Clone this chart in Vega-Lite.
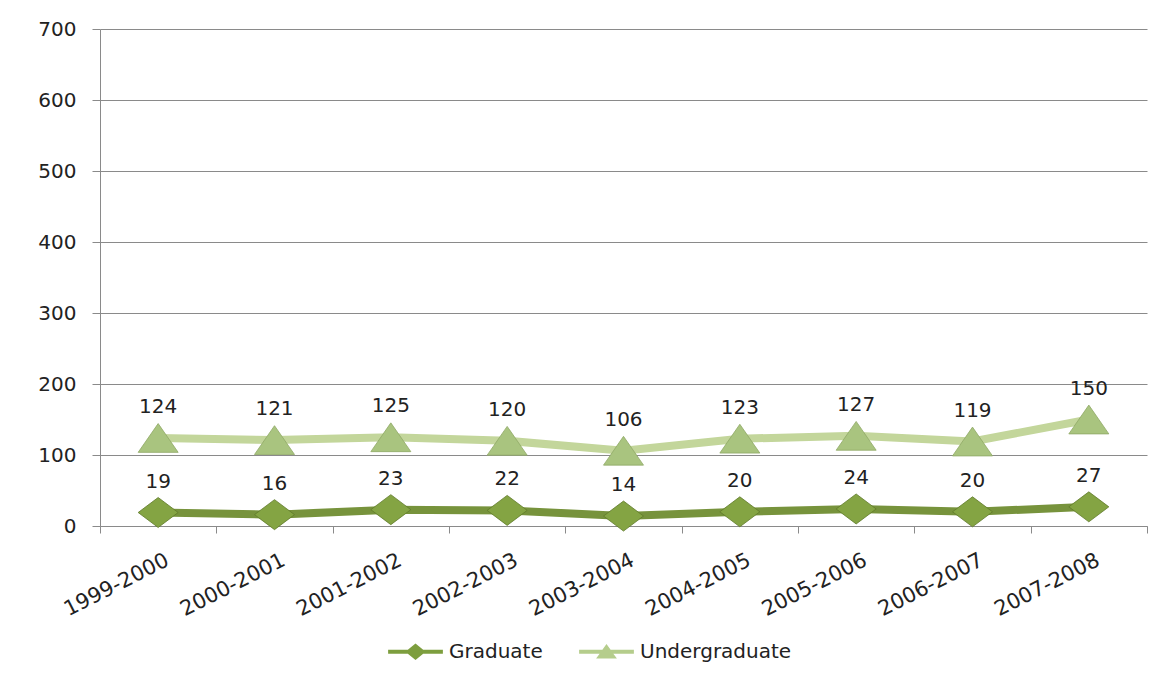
{
  "$schema": "https://vega.github.io/schema/vega-lite/v6.json",
  "width": 1047,
  "height": 497,
  "autosize": {"type": "none"},
  "padding": {"left": 100, "top": 29, "right": 22, "bottom": 152},
  "background": "white",
  "config": {"view": {"stroke": null}, "font": "DejaVu Sans"},
  "data": {
    "values": [
      {"year": "1999-2000", "series": "Graduate", "value": 19},
      {"year": "2000-2001", "series": "Graduate", "value": 16},
      {"year": "2001-2002", "series": "Graduate", "value": 23},
      {"year": "2002-2003", "series": "Graduate", "value": 22},
      {"year": "2003-2004", "series": "Graduate", "value": 14},
      {"year": "2004-2005", "series": "Graduate", "value": 20},
      {"year": "2005-2006", "series": "Graduate", "value": 24},
      {"year": "2006-2007", "series": "Graduate", "value": 20},
      {"year": "2007-2008", "series": "Graduate", "value": 27},
      {"year": "1999-2000", "series": "Undergraduate", "value": 124},
      {"year": "2000-2001", "series": "Undergraduate", "value": 121},
      {"year": "2001-2002", "series": "Undergraduate", "value": 125},
      {"year": "2002-2003", "series": "Undergraduate", "value": 120},
      {"year": "2003-2004", "series": "Undergraduate", "value": 106},
      {"year": "2004-2005", "series": "Undergraduate", "value": 123},
      {"year": "2005-2006", "series": "Undergraduate", "value": 127},
      {"year": "2006-2007", "series": "Undergraduate", "value": 119},
      {"year": "2007-2008", "series": "Undergraduate", "value": 150}
    ]
  },
  "encoding": {
    "x": {
      "field": "year",
      "type": "nominal",
      "sort": null,
      "scale": {"type": "band", "paddingInner": 0, "paddingOuter": 0},
      "axis": {
        "title": null,
        "grid": false,
        "labelAngle": -27,
        "labelAlign": "right",
        "labelBaseline": "top",
        "labelOffset": 4,
        "labelPadding": 16,
        "labelFontSize": 21,
        "labelColor": "#222222",
        "tickBand": "extent",
        "tickSize": 7,
        "tickColor": "#8a8a8a",
        "domainColor": "#8a8a8a"
      }
    },
    "y": {
      "field": "value",
      "type": "quantitative",
      "scale": {"domain": [0, 700], "nice": false},
      "axis": {
        "title": null,
        "values": [0, 100, 200, 300, 400, 500, 600, 700],
        "grid": true,
        "gridColor": "#8a8a8a",
        "domainColor": "#8a8a8a",
        "tickColor": "#8a8a8a",
        "tickSize": 8,
        "labelPadding": 16,
        "labelFontSize": 20,
        "labelColor": "#222222"
      }
    }
  },
  "layer": [
    {
      "mark": {"type": "line", "strokeWidth": 8},
      "encoding": {
        "color": {
          "field": "series",
          "type": "nominal",
          "scale": {"domain": ["Graduate", "Undergraduate"], "range": ["#77933C", "#C3D69B"]},
          "legend": {
            "title": null,
            "orient": "none",
            "direction": "horizontal",
            "legendX": 288,
            "legendY": 595,
            "labelFontSize": 20,
            "labelColor": "#222222",
            "symbolSize": 3000,
            "symbolStrokeWidth": 0,
            "columnPadding": 36,
            "labelOffset": 6,
            "encode": {
              "symbols": {
                "update": {
                  "shape": {"signal": "datum.value === 'Graduate' ? 'M-1,-0.07L-0.28,-0.07L0,-0.3L0.28,-0.07L1,-0.07L1,0.07L0.28,0.07L0,0.3L-0.28,0.07L-1,0.07Z' : 'M-1,-0.07L-0.15,-0.07L0,-0.28L0.15,-0.07L1,-0.07L1,0.07L0.25,0.07L0.38,0.25L-0.38,0.25L-0.25,0.07L-1,0.07Z'"},
                  "fill": {"signal": "datum.value === 'Graduate' ? '#7D9E3E' : '#B5CD8C'"},
                  "stroke": {"value": "transparent"},
                  "strokeWidth": {"value": 0},
                  "opacity": {"value": 1}
                }
              }
            }
          }
        }
      }
    },
    {
      "transform": [{"filter": "datum.series === 'Graduate'"}],
      "mark": {"type": "point", "filled": true, "opacity": 1, "size": 1600, "shape": "M-1,0L0,-0.75L1,0L0,0.75Z", "fill": "#84A443", "stroke": "#5F7A2A", "strokeWidth": 0.8}
    },
    {
      "transform": [{"filter": "datum.series === 'Undergraduate'"}],
      "mark": {"type": "point", "filled": true, "opacity": 1, "size": 1600, "shape": "M0,-0.72L1,0.72L-1,0.72Z", "fill": "#A9C47F", "stroke": "#8FA866", "strokeWidth": 0.8}
    },
    {
      "mark": {"type": "text", "dy": -31, "fontSize": 20, "color": "#222222"},
      "encoding": {
        "text": {"field": "value", "type": "quantitative"}
      }
    }
  ]
}
